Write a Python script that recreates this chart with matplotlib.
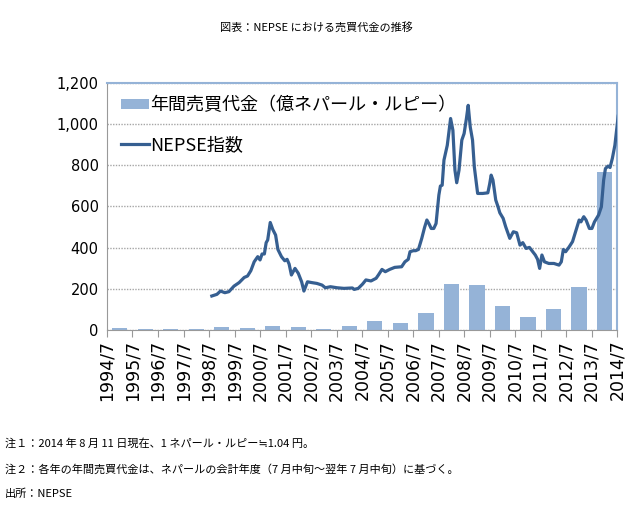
import numpy as np
import matplotlib
matplotlib.use("Agg")
from matplotlib import pyplot as plt
from matplotlib.patches import Patch
from matplotlib.lines import Line2D
from matplotlib.ticker import FuncFormatter

plt.rcParams['font.family'] = ['Noto Sans CJK JP', 'DejaVu Sans']

# fiscal year tick labels (July of each year)
tick_labels = [f"{y}/7" for y in range(1994, 2015)]

# yearly turnover (100 million NPR), fiscal years 1994/95 .. 2013/14
turnover = [10, 5, 5, 5, 15, 10, 19, 15, 5, 19,
            44, 34, 82, 223, 218, 116, 63, 102, 209, 765]

# NEPSE index, time in years since 1994/7
index_t = [4.11, 4.31, 4.45, 4.62, 4.78, 4.98, 5.18, 5.38, 5.51, 5.64,
           5.77, 5.91, 6.00, 6.08, 6.17, 6.24, 6.30, 6.40, 6.50, 6.61,
           6.70, 6.84, 6.97, 7.06, 7.14, 7.23, 7.37, 7.50, 7.63, 7.72,
           7.86, 8.03, 8.23, 8.43, 8.56, 8.76, 9.02, 9.29, 9.62, 9.69,
           9.85, 10.02, 10.15, 10.35, 10.55, 10.64, 10.78, 10.91, 11.08, 11.28,
           11.55, 11.68, 11.81, 11.88, 12.01, 12.10, 12.21, 12.34, 12.45, 12.54,
           12.63, 12.71, 12.81, 12.90, 13.01, 13.07, 13.14, 13.21, 13.34, 13.47,
           13.56, 13.64, 13.71, 13.80, 13.91, 14.00, 14.09, 14.16, 14.24, 14.33,
           14.40, 14.53, 14.73, 14.93, 15.00, 15.06, 15.13, 15.24, 15.33, 15.40,
           15.53, 15.63, 15.79, 15.93, 16.06, 16.19, 16.30, 16.43, 16.56, 16.66,
           16.79, 16.88, 16.96, 17.05, 17.15, 17.32, 17.52, 17.72, 17.81, 17.89,
           17.98, 18.12, 18.25, 18.38, 18.51, 18.58, 18.69, 18.78, 18.91, 19.01,
           19.11, 19.27, 19.38, 19.47, 19.54, 19.64, 19.72, 19.81, 19.91, 19.99,
           20.04]
index_val = [165, 173, 189, 181, 186, 213, 230, 255, 262, 288,
             331, 356, 340, 369, 369, 424, 437, 522, 488, 461,
             391, 356, 336, 343, 320, 267, 299, 275, 234, 189,
             234, 230, 226, 218, 205, 210, 205, 202, 204, 197,
             202, 223, 243, 238, 251, 267, 294, 283, 294, 304,
             307, 331, 343, 380, 385, 385, 391, 445, 498, 534,
             514, 493, 493, 517, 655, 699, 703, 825, 897, 1027,
             970, 776, 715, 776, 922, 954, 1027, 1091, 986, 922,
             792, 663, 663, 666, 708, 752, 728, 631, 598, 569,
             542, 501, 445, 477, 472, 412, 424, 396, 401, 385,
             364, 343, 299, 364, 331, 323, 323, 315, 331, 391,
             380, 404, 429, 482, 534, 525, 550, 534, 493, 493,
             525, 558, 598, 728, 784, 796, 789, 833, 897, 986,
             1038]

bar_color = '#95B3D7'
line_color = '#365F91'

fig = plt.figure(figsize=(6.33, 5.18), dpi=100)
ax = fig.add_axes([0.169, 0.363, 0.806, 0.477])

x_bars = np.arange(len(turnover)) + 0.5
ax.bar(x_bars, turnover, width=0.6, color=bar_color, zorder=2)
ax.plot(index_t, index_val, color=line_color, lw=2.3, zorder=3,
        solid_joinstyle='round')

ax.set_xlim(0, 20)
ax.set_ylim(0, 1200)
ax.set_yticks(range(0, 1201, 200))
ax.yaxis.set_major_formatter(FuncFormatter(lambda v, p: f"{int(v):,}"))
ax.set_xticks(range(len(tick_labels)))
ax.set_xticklabels(tick_labels, rotation=90, fontsize=12.5, family='DejaVu Sans')
for lab in ax.get_yticklabels():
    lab.set_family('DejaVu Sans')
ax.tick_params(axis='y', length=0, pad=6, labelsize=10.5)
ax.tick_params(axis='x', length=5, color='#999999', direction='out', pad=2)

ax.grid(axis='y', color='#A6A6A6', linestyle=(0, (1, 1)), lw=1, zorder=1)
ax.spines['left'].set_color('#999999')
ax.spines['bottom'].set_color('#999999')
ax.spines['top'].set_color(bar_color)
ax.spines['right'].set_color(bar_color)
ax.spines['top'].set_linewidth(1.5)
ax.spines['right'].set_linewidth(1.5)

handles = [Patch(facecolor=bar_color, edgecolor='none'),
           Line2D([0], [0], color=line_color, lw=2.3)]
ax.legend(handles, ['年間売買代金（億ネパール・ルピー）', 'NEPSE指数'],
          loc='upper left', bbox_to_anchor=(0.0, 1.005), frameon=False,
          fontsize=13, handlelength=1.5, handleheight=0.5,
          handletextpad=0.1, labelspacing=1.2, borderpad=0.3)

fig.text(0.5, 1 - 27 / 518, '図表：NEPSE における売買代金の推移',
         ha='center', va='center', fontsize=8)

fig.text(5 / 633, 1 - 443 / 518, '注１：2014 年 8 月 11 日現在、1 ネパール・ルピー≒1.04 円。',
         ha='left', va='center', fontsize=8)
fig.text(5 / 633, 1 - 469 / 518,
         '注２：各年の年間売買代金は、ネパールの会計年度（7 月中旬～翌年 7 月中旬）に基づく。',
         ha='left', va='center', fontsize=8)
fig.text(5 / 633, 1 - 494 / 518, '出所：NEPSE', ha='left', va='center', fontsize=8)

fig.savefig('out.png', dpi=100)
